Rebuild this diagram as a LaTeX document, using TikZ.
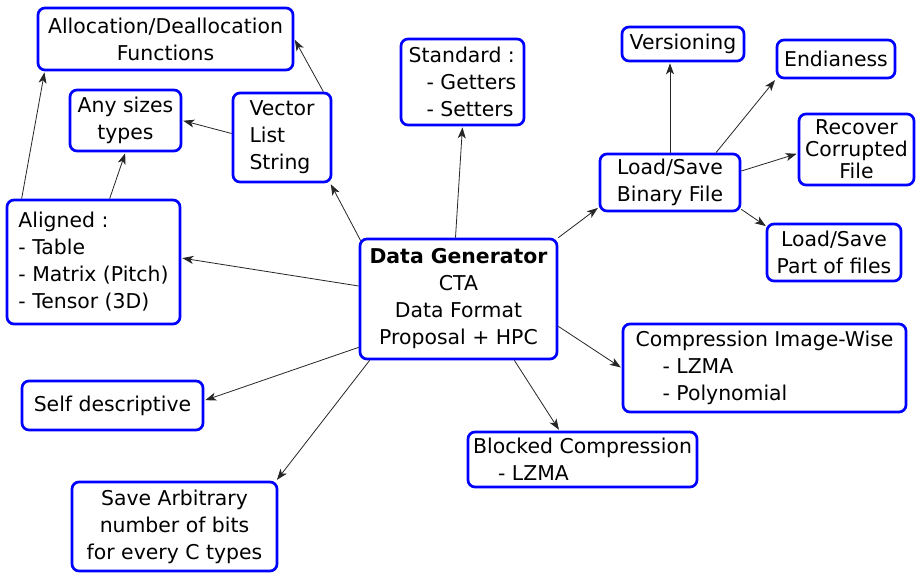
\documentclass[tikz,border=0pt]{standalone}
\usepackage{fontspec}
\setmainfont{DejaVu Sans}
\usetikzlibrary{arrows.meta,calc}
\definecolor{boxblue}{RGB}{0,0,255}
\tikzset{
  box/.style={draw=boxblue, line width=2.7pt, rounded corners=7pt, fill=white,
    inner sep=0pt, font=\fontsize{20.4}{27}\selectfont, align=center},
  arr/.style={draw=black!85, line width=0.8pt, shorten >=1pt,
    -{Stealth[length=11pt,width=8pt,inset=3pt]}}
}
\begin{document}
\begin{tikzpicture}[x=1pt,y=-1pt]
\useasboundingbox (0,0) rectangle (916,574);
\fill[white] (0,0) rectangle (916,574);
% nodes
\node[box, minimum width=255, minimum height=62] (alloc) at (165.5,39) {Allocation/Deallocation\\Functions};
\node[box, minimum width=111, minimum height=61] (any) at (125.5,120.5) {Any sizes\\types};
\node[box, minimum width=98, minimum height=89, align=left] (vec) at (282,137.5) {Vector\\List\\String};
\node[box, minimum width=123, minimum height=86, align=left] (std) at (462.5,82) {Standard :\\\hspace*{18pt}- Getters\\\hspace*{18pt}- Setters};
\node[box, minimum width=122, minimum height=34] (ver) at (683,44) {Versioning};
\node[box, minimum width=118, minimum height=38] (end) at (836,59) {Endianess};
\node[box, minimum width=115, minimum height=71, font=\fontsize{20.4}{22}\selectfont] (rec) at (856.5,149.5) {Recover\\Corrupted\\File};
\node[box, minimum width=140, minimum height=57] (bin) at (670,182.5) {Load/Save\\Binary File};
\node[box, minimum width=134, minimum height=57] (part) at (834,252.5) {Load/Save\\Part of files};
\node[box, minimum width=197, minimum height=120] (data) at (458.5,299) {\textbf{Data Generator}\\CTA\\Data Format\\Proposal + HPC};
\node[box, minimum width=173, minimum height=124, align=left] (al) at (93.5,262) {Aligned :\\- Table\\- Matrix (Pitch)\\- Tensor (3D)};
\node[box, minimum width=181, minimum height=49] (self) at (112.5,405.5) {Self descriptive};
\node[box, minimum width=205, minimum height=89] (save) at (174.5,526.5) {Save Arbitrary\\number of bits\\for every C types};
\node[box, minimum width=229, minimum height=55, align=left] (blk) at (582.5,459.5) {Blocked Compression\\\hspace*{25pt}- LZMA};
\node[box, minimum width=283, minimum height=88, align=left] (comp) at (764.5,368) {Compression Image-Wise\\\hspace*{27pt}- LZMA\\\hspace*{27pt}- Polynomial};
% connectors
\draw[arr] ([xshift=16pt]al.north west) -- ([xshift=8pt]alloc.south west);
\draw[arr] ([xshift=104pt]al.north west) -- (any.south);
\draw[arr] ([yshift=4pt]vec.west) -- (any.east);
\draw[arr] ([xshift=-9pt]vec.north east) -- (alloc.east);
\draw[arr] ([xshift=2pt,yshift=-3pt]data.north west) -- ([xshift=-2pt]vec.south east);
\draw[arr] ([xshift=-3pt]data.north) -- (std.south);
\draw[arr] (data.north east) -- ([yshift=5pt]bin.south west);
\draw[arr] ([yshift=13pt]data.west) -- ([yshift=4pt]al.east);
\draw[arr] ([yshift=13pt]data.south west) -- ([yshift=5pt]self.east);
\draw[arr] ([xshift=11pt]data.south west) -- ([xshift=-2pt]save.north east);
\draw[arr] ([xshift=-44pt]data.south east) -- ([xshift=-23pt]blk.north);
\draw[arr] ([yshift=34pt]data.south east) -- (comp.west);
\draw[arr] (bin.north) -- (bin.north |- ver.south);
\draw[arr] ([xshift=46pt]bin.north) -- (end.south west);
\draw[arr] ([yshift=11.5pt]bin.east) -- ([yshift=-4pt]rec.west);
\draw[arr] ([yshift=3pt]bin.south east) -- ([xshift=1pt,yshift=-4pt]part.north west);
\end{tikzpicture}
\end{document}
